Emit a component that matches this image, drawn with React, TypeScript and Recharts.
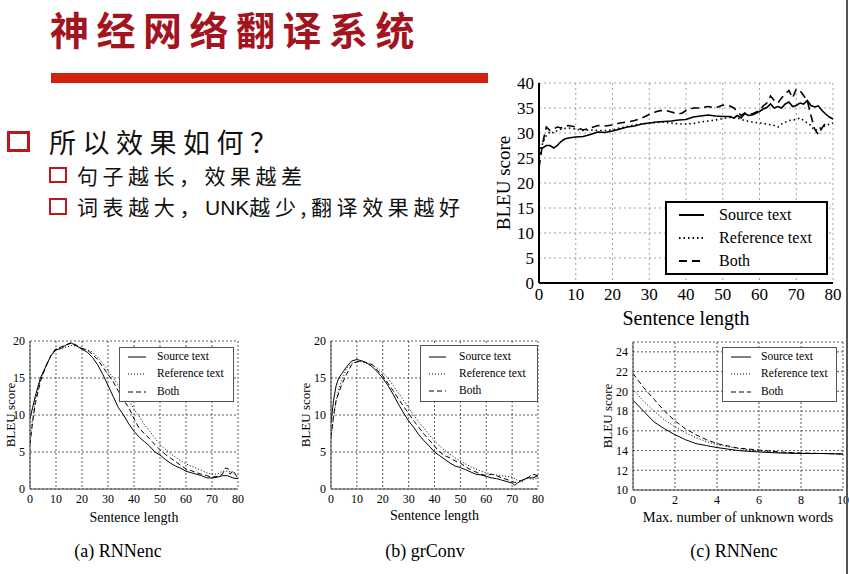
import React from 'react';
import { LineChart, Line, XAxis, YAxis, CartesianGrid, Label } from 'recharts';

// ---------- Top chart data ----------
const topSrcX = [0,1,2,3,4,5,6,7,8,10,12,14,16,18,20,22,24,26,28,30,32,34,36,38,40,42,44,46,48,50,52,53,54,55,56,57,58,60,61,62,63,64,65,66,67,68,69,70,71,72,73,74,75,76,77,78,79,80];
const topSrcY = [27,27,27.5,27.5,27,27.5,28.3,28.8,29,29.2,29.3,29.7,30.2,30.1,30.4,30.8,31.2,31.4,31.8,32,32.2,32.3,32.4,32.6,32.7,33.2,33.4,33.6,33.4,33.3,33.3,33,33.5,33,33.9,33.5,33.6,34.3,34.8,35.1,35.8,35,35.3,35,35.8,36.2,35.3,35.5,36,35.8,36.5,35.5,35.2,35.4,34.5,33.8,33.2,32.8];
const topRefX = [0,1,2,3,4,5,6,8,10,12,14,16,18,20,22,24,26,28,30,32,34,36,38,40,42,44,46,48,50,52,54,56,58,60,62,64,65,66,68,70,71,72,74,75,76,78,80];
const topRefY = [25,28,29.5,30.3,30,30.5,30.8,31,30.8,30.5,30.6,30.5,30.5,30.6,31,31.3,31.6,31.8,32,32.1,32.2,32,31.8,31.8,31.9,32.2,32.4,32.6,32.9,33.1,33,32.5,32.2,32,31.8,31.5,31.2,31.8,32.5,32.7,33,32.5,31.5,30.5,30.8,31.5,32];
const topBothX = [0,1,2,3,4,5,6,7,8,10,12,14,16,18,20,22,24,26,28,30,32,34,36,38,39,40,42,44,46,48,50,52,53,54,55,56,58,60,61,62,63,64,65,66,67,68,69,70,71,72,73,74,75,76,77,78,79];
const topBothY = [23,28,31.2,30.5,30.8,31.2,31,31.3,31.5,31.2,30.6,31,31.5,31.4,31.6,32,32.2,32.5,33,33.7,34.3,34.6,34.2,33.8,34,34.5,35,35,35.3,35,35.6,35.4,35,34.3,33.5,34,33.8,34.5,35.4,36,37.4,36.5,36,37,37.8,38.5,37,38.8,38.5,37.5,36.5,33.5,30.8,29.7,31,32,32.3];
const topXTicks = [0,10,20,30,40,50,60,70,80];
const topYTicks = [0,5,10,15,20,25,30,35,40];

// ---------- (a) RNNenc ----------
const aSrcX = [0,1,2,4,6,8,10,12,14,16,18,20,22,24,26,28,30,32,34,36,38,40,42,44,46,48,50,52,54,56,58,60,62,64,66,68,70,72,74,76,78,80];
const aSrcY = [9.5,11,12.5,15,16.5,18,18.8,19,19.5,19.7,19.3,18.9,18.5,17.8,16.8,15.5,14,12.5,11,10,8.8,7.8,7,6.4,5.8,5,4.6,4,3.5,3.1,2.8,2.4,2.2,2,1.8,1.5,1.5,1.6,1.8,1.8,1.5,1.4];
const aRefY = [7,9.5,12,14.8,16.5,18,18.8,19,19.2,19.4,19.3,19,18.8,18.5,17.8,17,16,15,14,13,12,10.8,9.8,8.7,7.8,6.9,6,5.4,4.8,4.3,3.8,3.4,3.1,2.8,2.5,2.2,2,2,2.4,2.4,2.3,1.5];
const aBothX = [0,1,2,4,6,8,10,12,14,16,18,20,22,24,26,28,30,32,34,36,38,40,42,44,46,48,50,52,54,56,58,60,62,64,66,68,70,72,74,75,76,77,78,80];
const aBothY = [6,9,11.5,14.5,16.5,18,19,19.2,19.5,19.8,19.4,19,18.8,18.2,17.5,16.5,15.5,14.5,13.2,12,11,9.5,8.2,7.5,6.8,6,5.3,4.7,4.2,3.7,3.2,2.7,2.5,2.2,2,1.8,1.6,1.7,2,2.8,2.8,2,2.5,1.5];

// ---------- (b) grConv ----------
const bX = [0,1,2,3,4,6,8,10,12,14,16,18,20,22,24,26,28,30,32,34,36,38,40,42,44,46,48,50,52,54,56,58,60,62,64,66,68,70,71,72,74,76,78,80];
const bSrcY = [9,12,14,15,15.5,16.5,17.3,17.5,17.3,17,16.5,15.8,15,14,12.8,11.5,10.3,9.2,8.3,7.3,6.5,5.8,5,4.5,4,3.5,3.1,2.9,2.6,2.3,2,1.9,1.7,1.5,1.4,1.2,1,0.8,0.5,0.8,1.2,1.5,1.5,1.8];
const bRefY = [7,9.5,12,13.5,14.5,16.3,17,17.2,17.2,17,16.8,16.3,15.7,15,14,13,12,11,10,9,8.2,7.3,6.5,5.8,5.2,4.7,4.2,3.8,3.4,3,2.7,2.4,2.2,2,1.9,1.8,1.7,1.6,1.4,1.2,1,1.5,1.3,1.5];
const bBothY = [7,10,12,13,14,15.5,16.8,17.2,17.3,17,16.8,16,15.3,14.3,13.3,12.2,11.2,10.2,9.2,8.3,7.4,6.6,5.8,5,4.5,4.2,3.8,3.5,3,2.6,2.3,2,1.8,2,1.8,1.5,1.3,1,0.9,0.9,1.2,1.5,2,1.8];
const sentXTicks = [0,10,20,30,40,50,60,70,80];
const sentYTicks = [0,5,10,15,20];

// ---------- (c) RNNenc, unknown words ----------
const cX = [0,0.5,1,1.5,2,2.5,3,3.5,4,5,6,7,8,9,10];
const cSrcY = [19.1,18.0,16.9,16.2,15.6,15.1,14.7,14.5,14.3,14.0,13.85,13.75,13.7,13.7,13.65];
const cRefY = [20.2,19.0,18.0,17.1,16.4,15.8,15.3,14.9,14.6,14.2,13.95,13.8,13.72,13.7,13.65];
const cBothY = [21.8,20.4,19.2,18.0,17.0,16.2,15.6,15.1,14.7,14.25,14.05,13.85,13.75,13.7,13.65];
const cXTicks = [0,2,4,6,8,10];
const cYTicks = [10,12,14,16,18,20,22,24];

const legendNames = ['Source text', 'Reference text', 'Both'];

const zip = (xs: number[], ys: number[]) => xs.map((x, i) => ({ x, y: ys[i] }));

const SERIF = '"Liberation Serif", "DejaVu Serif", serif';
const CJK = '"Noto Sans CJK SC", sans-serif';

type Series = { data: { x: number; y: number }[]; dash?: string };

function Panel(props: {
  left: number; top: number; width: number; height: number;
  margin: { top: number; right: number; left: number; bottom: number };
  yAxisWidth: number; xAxisHeight: number;
  xDomain: [number, number]; yDomain: [number, number];
  xTicks: number[]; yTicks: number[];
  series: Series[];
  xLabel: string; yLabel: string;
  tickSize: number; labelSize: number; xLabelSize?: number;
  yLabelOffset: number; xLabelOffset: number;
  lineWidth: number; frameWidth: number; frameColor: string; gridDash: string; gridColor: string;
}) {
  const p = props;
  const tick = { fill: '#000', fontSize: p.tickSize, fontFamily: SERIF };
  const frame = { stroke: p.frameColor, strokeWidth: p.frameWidth };
  return (
    <div style={{ position: 'absolute', left: p.left, top: p.top }}>
      <LineChart width={p.width} height={p.height} margin={p.margin}>
        <CartesianGrid xAxisId="b" yAxisId="l" stroke={p.gridColor} strokeDasharray={p.gridDash} strokeWidth={0.8} />
        <XAxis xAxisId="b" type="number" dataKey="x" domain={p.xDomain} ticks={p.xTicks} allowDataOverflow
          height={p.xAxisHeight} tick={tick} tickLine={false} tickSize={3}
          axisLine={frame} interval={0}>
          <Label value={p.xLabel} position="insideBottom" offset={p.xLabelOffset}
            style={{ fill: '#000', fontSize: p.xLabelSize ?? p.labelSize, fontFamily: SERIF }} />
        </XAxis>
        <XAxis xAxisId="t" orientation="top" type="number" domain={p.xDomain} height={0} tick={false} tickLine={false}
          axisLine={frame} />
        <YAxis yAxisId="l" type="number" domain={p.yDomain} ticks={p.yTicks} allowDataOverflow width={p.yAxisWidth}
          tick={tick} tickLine={false} tickSize={3} interval={0}
          axisLine={frame}>
          <Label value={p.yLabel} angle={-90} position="insideLeft" offset={p.yLabelOffset}
            style={{ fill: '#000', fontSize: p.labelSize, fontFamily: SERIF, textAnchor: 'middle' }} />
        </YAxis>
        <YAxis yAxisId="r" orientation="right" type="number" domain={p.yDomain} width={0} tick={false} tickLine={false}
          axisLine={frame} />
        {p.series.map((s, i) => (
          <Line key={i} xAxisId="b" yAxisId="l" data={s.data} dataKey="y" type="linear" dot={false}
            stroke="#000" strokeWidth={p.lineWidth} strokeDasharray={s.dash} isAnimationActive={false} />
        ))}
      </LineChart>
    </div>
  );
}

function LegendBox(props: {
  left: number; top: number; width: number; height: number; border: string;
  rowTops: number[]; lineX: [number, number]; textX: number; fontSize: number;
  dashes: (string | undefined)[]; lineWidth: number;
}) {
  const p = props;
  return (
    <div style={{ position: 'absolute', left: p.left, top: p.top, width: p.width, height: p.height,
      border: p.border, background: '#fff', boxSizing: 'border-box' }}>
      {legendNames.map((n, i) => (
        <div key={n} style={{ position: 'absolute', left: 0, top: p.rowTops[i], width: '100%', height: 0 }}>
          <svg style={{ position: 'absolute', left: p.lineX[0], top: -3 }} width={p.lineX[1] - p.lineX[0]} height={6}>
            <line x1={0} y1={3} x2={p.lineX[1] - p.lineX[0]} y2={3} stroke="#000" strokeWidth={p.lineWidth}
              strokeDasharray={p.dashes[i]} />
          </svg>
          <span style={{ position: 'absolute', left: p.textX, top: -p.fontSize * 0.6, fontFamily: SERIF,
            fontSize: p.fontSize, lineHeight: `${p.fontSize * 1.2}px`, color: '#000', whiteSpace: 'nowrap' }}>{n}</span>
        </div>
      ))}
    </div>
  );
}

const Box = ({ left, top, w, h, b }: { left: number; top: number; w: number; h: number; b: number }) => (
  <div style={{ position: 'absolute', left, top, width: w, height: h, border: `${b}px solid #c0141e`,
    boxSizing: 'border-box' }} />
);

export default function App() {
  const topDashes = [undefined, '1.5 3', '8 5'];
  const botDashes = [undefined, '1 2', '5 3'];
  return (
    <div style={{ position: 'absolute', left: 0, top: 0, width: 849, height: 574, background: '#fff', overflow: 'hidden' }}>
      {/* Title */}
      <div style={{ position: 'absolute', left: 50, top: 0, width: 440, height: 56, fontFamily: CJK, fontWeight: 700, fontSize: 39,
        letterSpacing: 7.5, color: '#a3141f', lineHeight: '56px', whiteSpace: 'nowrap' }}>神经网络翻译系统</div>
      <div style={{ position: 'absolute', left: 51, top: 73, width: 437, height: 10, background: '#d4200e' }} />

      {/* Bullets */}
      <Box left={7} top={131} w={23} h={21} b={3} />
      <div style={{ position: 'absolute', left: 49, top: 124, fontFamily: CJK, fontSize: 27, letterSpacing: 6.5,
        lineHeight: '36px', color: '#111', whiteSpace: 'nowrap' }}>所以效果如何？</div>
      <Box left={49} top={167} w={18} h={16} b={2.5} />
      <div style={{ position: 'absolute', left: 77, top: 161, fontFamily: CJK, fontSize: 21, letterSpacing: 4.5,
        lineHeight: '28px', color: '#111', whiteSpace: 'nowrap' }}>句子越长，效果越差</div>
      <Box left={49} top={198} w={18} h={17} b={2.5} />
      <div style={{ position: 'absolute', left: 77, top: 192, fontFamily: CJK, fontSize: 21, letterSpacing: 4.6,
        lineHeight: '28px', color: '#111', whiteSpace: 'nowrap' }}>词表越大，<span style={{ fontFamily: '"Liberation Sans", sans-serif', letterSpacing: 0 }}>UNK</span>越少,翻译效果越好</div>

      {/* Top chart */}
      <Panel left={490} top={70} width={359} height={270}
        margin={{ top: 13, right: 16, left: 0, bottom: 0 }} yAxisWidth={49} xAxisHeight={57}
        xDomain={[0, 80]} yDomain={[0, 40]} xTicks={topXTicks} yTicks={topYTicks}
        series={[
          { data: zip(topSrcX, topSrcY), dash: topDashes[0] },
          { data: zip(topRefX, topRefY), dash: topDashes[1] },
          { data: zip(topBothX, topBothY), dash: topDashes[2] },
        ]}
        xLabel="Sentence length" yLabel="BLEU score" tickSize={17} labelSize={19} xLabelSize={20}
        yLabelOffset={13} xLabelOffset={15} lineWidth={1.6} frameWidth={2} frameColor="#000" gridDash="2 3" gridColor="#888" />
      <LegendBox left={665} top={201} width={163} height={74} border="2px solid #000"
        rowTops={[12, 35, 58]} lineX={[12, 37]} textX={52} fontSize={16} dashes={topDashes} lineWidth={2} />

      {/* (a) */}
      <Panel left={0} top={330} width={260} height={200}
        margin={{ top: 11, right: 22, left: 0, bottom: 0 }} yAxisWidth={30} xAxisHeight={41}
        xDomain={[0, 80]} yDomain={[0, 20]} xTicks={sentXTicks} yTicks={sentYTicks}
        series={[
          { data: zip(aSrcX, aSrcY), dash: botDashes[0] },
          { data: zip(aSrcX, aRefY), dash: botDashes[1] },
          { data: zip(aBothX, aBothY), dash: botDashes[2] },
        ]}
        xLabel="Sentence length" yLabel="BLEU score" tickSize={12} labelSize={13} xLabelSize={14}
        yLabelOffset={10} xLabelOffset={8} lineWidth={1} frameWidth={1} frameColor="#444" gridDash="2 2" gridColor="#333" />
      <LegendBox left={119} top={347} width={115} height={55} border="1px solid #555"
        rowTops={[9, 26, 44]} lineX={[8, 26]} textX={37} fontSize={11.5} dashes={botDashes} lineWidth={1} />

      {/* (b) */}
      <Panel left={290} top={330} width={270} height={200}
        margin={{ top: 11, right: 22, left: 0, bottom: 0 }} yAxisWidth={41} xAxisHeight={41}
        xDomain={[0, 80]} yDomain={[0, 20]} xTicks={sentXTicks} yTicks={sentYTicks}
        series={[
          { data: zip(bX, bSrcY), dash: botDashes[0] },
          { data: zip(bX, bRefY), dash: botDashes[1] },
          { data: zip(bX, bBothY), dash: botDashes[2] },
        ]}
        xLabel="Sentence length" yLabel="BLEU score" tickSize={12} labelSize={13} xLabelSize={14}
        yLabelOffset={15} xLabelOffset={10} lineWidth={1} frameWidth={1} frameColor="#444" gridDash="2 2" gridColor="#333" />
      <LegendBox left={420} top={345} width={118} height={57} border="1px solid #555"
        rowTops={[11, 28, 45]} lineX={[8, 25]} textX={38} fontSize={11.5} dashes={botDashes} lineWidth={1} />

      {/* (c) */}
      <Panel left={570} top={330} width={279} height={200}
        margin={{ top: 12, right: 6, left: 0, bottom: 0 }} yAxisWidth={63} xAxisHeight={40}
        xDomain={[0, 10]} yDomain={[10, 25]} xTicks={cXTicks} yTicks={cYTicks}
        series={[
          { data: zip(cX, cSrcY), dash: botDashes[0] },
          { data: zip(cX, cRefY), dash: botDashes[1] },
          { data: zip(cX, cBothY), dash: botDashes[2] },
        ]}
        xLabel="Max. number of unknown words" yLabel="BLEU score" tickSize={12} labelSize={13} xLabelSize={14.5}
        yLabelOffset={37} xLabelOffset={8} lineWidth={1} frameWidth={1} frameColor="#444" gridDash="2 2" gridColor="#333" />
      <LegendBox left={722} top={347} width={115} height={55} border="1px solid #555"
        rowTops={[9, 26, 44]} lineX={[8, 28]} textX={38} fontSize={11.5} dashes={botDashes} lineWidth={1} />

      {/* Captions */}
      {[['(a) RNNenc', 118], ['(b) grConv', 425], ['(c) RNNenc', 734]].map(([t, cx]) => (
        <div key={t as string} style={{ position: 'absolute', left: (cx as number) - 60, width: 120, top: 540,
          textAlign: 'center', fontFamily: SERIF, fontSize: 18, lineHeight: '22px', color: '#000' }}>{t}</div>
      ))}

      {/* right edge line */}
      <div style={{ position: 'absolute', left: 846, top: 0, width: 2, height: 574, background: '#555' }} />
    </div>
  );
}
